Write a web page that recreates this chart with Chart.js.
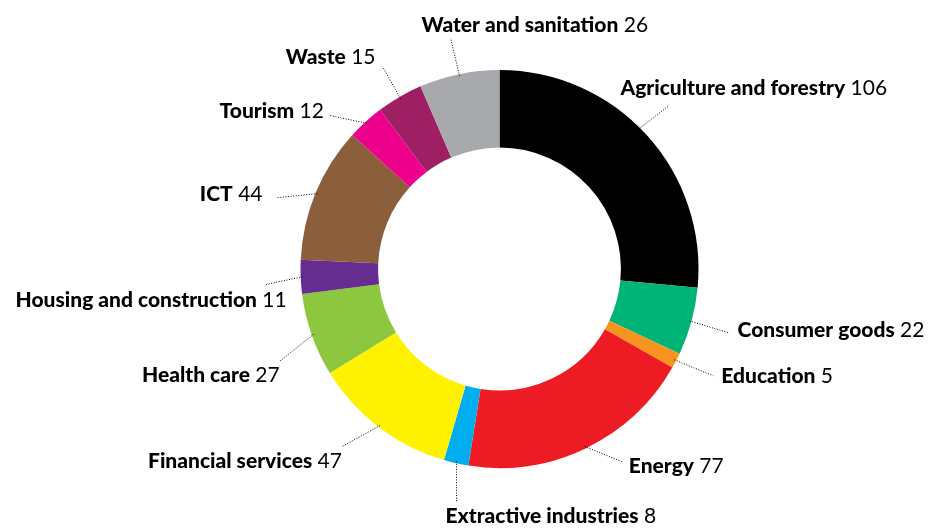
<!DOCTYPE html>
<html>
<head>
<meta charset="utf-8">
<script src="https://cdn.jsdelivr.net/npm/chart.js@4/dist/chart.umd.min.js"></script>
<style>
  html, body { margin: 0; padding: 0; background: #fff; }
  #wrap { width: 931px; height: 532px; position: relative; }
</style>
</head>
<body>
<div id="wrap"><canvas id="chart-canvas"></canvas></div>
<script>
// sectors, clockwise from 12 o'clock
const sectors = [
  'Agriculture and forestry', 'Consumer goods', 'Education', 'Energy',
  'Extractive industries', 'Financial services', 'Health care',
  'Housing and construction', 'ICT', 'Tourism', 'Waste', 'Water and sanitation'
];
const counts = [106, 22, 5, 77, 8, 47, 27, 11, 44, 12, 15, 26];

const sectorColors = [
  '#000000', '#00b377', '#f7941d', '#ed1c24', '#00aeef', '#fff200',
  '#8dc63f', '#662d91', '#8b5e3c', '#ec008c', '#9e1f63', '#a7a9ac'
];

// leader line / label placement per slice (offsets in px)
// at: position along the arc, dx/dy: leader end from arc edge, tx/ty: text from leader end
const labelLayout = [
  { at: 0.47, dx: 31, dy: -24, tx: -49, ty: -10, align: 'left' },
  { at: 0.5, dx: 40, dy: 12, tx: 8, ty: 4, align: 'left' },
  { at: 0.5, dx: 39, dy: 16, tx: 8, ty: 7, align: 'left' },
  { at: 0.5, dx: 37, dy: 15, tx: 7, ty: 11, align: 'left' },
  { at: 0.5, dx: 0, dy: 41, tx: -11, ty: 21, align: 'left' },
  { at: 0.5, dx: -38, dy: 21, tx: 0, ty: 21, align: 'right' },
  { at: 0.5, dx: -34, dy: 27, tx: 0, ty: 21, align: 'right' },
  { at: 0.5, dx: -38, dy: 8, tx: 22, ty: 22, align: 'right' },
  { at: 0.5, dx: -40, dy: 4, tx: -15, ty: 3, align: 'right' },
  { at: 0.5, dx: -38, dy: -8, tx: -5, ty: 3, align: 'right' },
  { at: 0.5, dx: -18, dy: -32, tx: -7, ty: -3, align: 'right' },
  { at: 0.5, dx: -9, dy: -38, tx: -29, ty: -6, align: 'left' }
];

const FONT_FAMILY = 'Lato, "Open Sans", sans-serif';
const FONT_SIZE = 21;

const leaderLabels = {
  id: 'leaderLabels',
  afterDatasetsDraw(chart) {
    const ctx = chart.ctx;
    const meta = chart.getDatasetMeta(0);
    ctx.save();
    meta.data.forEach((arc, i) => {
      const lay = labelLayout[i];
      const a = arc.startAngle + (arc.endAngle - arc.startAngle) * lay.at;
      const r = arc.outerRadius - 2;
      const sx = arc.x + r * Math.cos(a);
      const sy = arc.y + r * Math.sin(a);
      const ex = sx + lay.dx;
      const ey = sy + lay.dy;

      ctx.beginPath();
      ctx.setLineDash([1, 1.6]);
      ctx.lineWidth = 1;
      ctx.strokeStyle = '#000';
      ctx.moveTo(sx, sy);
      ctx.lineTo(ex, ey);
      ctx.stroke();
      ctx.setLineDash([]);

      const name = sectors[i];
      const val = ' ' + counts[i];
      ctx.textBaseline = 'alphabetic';
      ctx.textAlign = 'left';
      ctx.font = `900 ${FONT_SIZE}px ${FONT_FAMILY}`;
      const wName = ctx.measureText(name).width;
      ctx.font = `normal ${FONT_SIZE}px ${FONT_FAMILY}`;
      const wVal = ctx.measureText(val).width;

      let x = ex + lay.tx;
      if (lay.align === 'right') x -= wName + wVal;
      const y = ey + lay.ty;

      ctx.fillStyle = '#000';
      ctx.font = `900 ${FONT_SIZE}px ${FONT_FAMILY}`;
      ctx.fillText(name, x, y);
      ctx.font = `normal ${FONT_SIZE}px ${FONT_FAMILY}`;
      ctx.fillText(val, x + wName, y);
    });
    ctx.restore();
  }
};

new Chart(document.getElementById('chart-canvas'), {
  type: 'doughnut',
  data: {
    labels: sectors,
    datasets: [{
      data: counts,
      backgroundColor: sectorColors,
      borderWidth: 0,
      hoverOffset: 0
    }]
  },
  options: {
    responsive: true,
    maintainAspectRatio: false,
    animation: false,
    cutout: '61%',
    layout: { padding: { left: 300.5, right: 232.5, top: 70, bottom: 64 } },
    plugins: {
      legend: { display: false },
      tooltip: { enabled: false }
    }
  },
  plugins: [leaderLabels]
});
</script>
</body>
</html>
